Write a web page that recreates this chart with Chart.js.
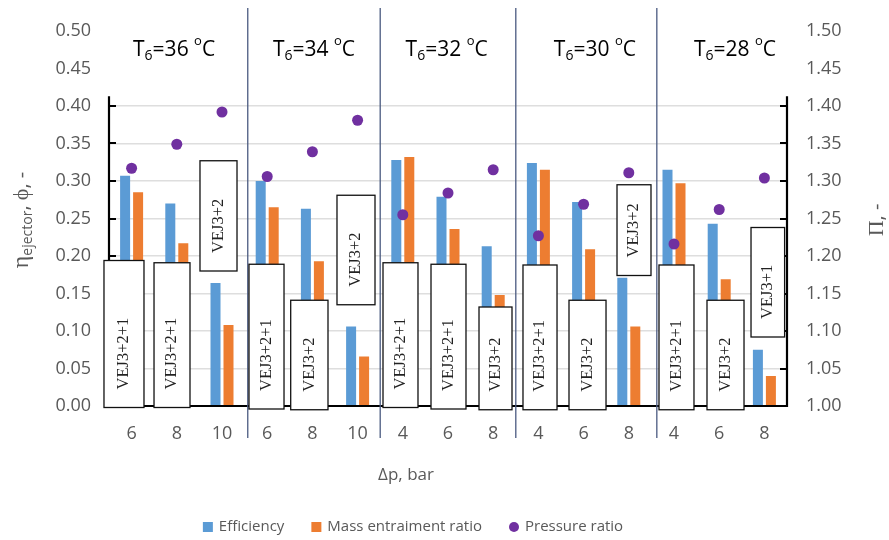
<!DOCTYPE html>
<html><head><meta charset="utf-8">
<script src="https://cdn.jsdelivr.net/npm/chart.js@4.4.0/dist/chart.umd.min.js"></script>
<style>html,body{margin:0;padding:0;background:#fff}#wrap{width:889px;height:540px}</style>
</head><body><div id="wrap"><canvas id="c" width="889" height="540"></canvas></div>
<script>
// ---- data ----
const categories = ['6','8','10','6','8','10','4','6','8','4','6','8','4','6','8'];
const efficiency = [0.307,0.270,0.164,0.300,0.263,0.106,0.328,0.279,0.213,0.324,0.272,0.171,0.315,0.243,0.075];
const massRatio  = [0.285,0.217,0.108,0.265,0.193,0.066,0.332,0.236,0.148,0.315,0.209,0.106,0.297,0.169,0.040];
const pressureRatio = [1.317,1.349,1.392,1.306,1.339,1.381,1.255,1.284,1.315,1.227,1.269,1.311,1.216,1.262,1.304];
const seriesNames = ['Efficiency','Mass entraiment ratio','Pressure ratio'];
const groupTemps = ['36','34','32','30','28'];
const groupCenters = [0.94,4.035,6.97,10.25,13.35];   // category-index units
const dividers = [2.57,5.5,8.5,11.62];                 // category-index units
const boxLabels = ['VEJ3+2+1','VEJ3+2+1','VEJ3+2','VEJ3+2+1','VEJ3+2','VEJ3+2','VEJ3+2+1','VEJ3+2+1','VEJ3+2','VEJ3+2+1','VEJ3+2','VEJ3+2','VEJ3+2+1','VEJ3+2','VEJ3+1'];
const boxFrom = [-0.611,0.496,1.513,2.597,3.520,4.544,5.562,6.624,7.686,8.659,9.677,10.739,11.668,12.730,13.704];
const boxTo   = [0.274,1.292,2.332,3.372,4.345,5.385,6.336,7.398,8.416,9.412,10.496,11.491,12.442,13.549,14.447];
const boxLow  = [-0.002,-0.002,0.180,-0.004,-0.005,0.135,-0.002,-0.004,-0.005,-0.005,-0.005,0.174,-0.005,-0.005,0.092];
const boxHigh = [0.194,0.191,0.327,0.189,0.141,0.281,0.191,0.189,0.132,0.188,0.141,0.295,0.188,0.141,0.238];
const leftAxisMax = 0.5, rightAxisMin = 1.0, rightAxisMax = 1.5, tickStep = 0.05;

const GRAY = '#595959';
const SANS = '"Open Sans", sans-serif';
const SERIF = '"Liberation Serif", serif';

const overlay = {
  id: 'overlay',
  afterDatasetsDraw(chart) {
    const {ctx, chartArea: ca, scales: {x, y}} = chart;
    ctx.save();
    const yTop = y.getPixelForValue(0.413);
    ctx.strokeStyle = '#000'; ctx.lineWidth = 2.2;
    ctx.beginPath();
    ctx.moveTo(ca.left, yTop); ctx.lineTo(ca.left, ca.bottom);
    ctx.lineTo(ca.right, ca.bottom); ctx.lineTo(ca.right, yTop);
    ctx.stroke();
    ctx.lineWidth = 2;
    for (let i = 0; i <= 8; i++) {
      const py = Math.round(y.getPixelForValue(i * tickStep));
      ctx.beginPath();
      ctx.moveTo(ca.left, py); ctx.lineTo(ca.left + 7, py);
      ctx.moveTo(ca.right - 7, py); ctx.lineTo(ca.right, py);
      ctx.stroke();
    }
    ctx.strokeStyle = '#4a5a80'; ctx.lineWidth = 1.3;
    dividers.forEach(d => {
      const px = x.getPixelForValue(d);
      ctx.beginPath(); ctx.moveTo(px, 8); ctx.lineTo(px, ca.bottom + 32); ctx.stroke();
    });
    boxLabels.forEach((lab, i) => {
      const x0 = x.getPixelForValue(boxFrom[i]), x1 = x.getPixelForValue(boxTo[i]);
      const yb = y.getPixelForValue(boxLow[i]), yt = y.getPixelForValue(boxHigh[i]);
      ctx.fillStyle = '#fff';
      ctx.fillRect(x0, yt, x1 - x0, yb - yt);
      ctx.strokeStyle = '#111'; ctx.lineWidth = 1.3;
      ctx.strokeRect(x0, yt, x1 - x0, yb - yt);
      ctx.save();
      ctx.translate((x0 + x1) / 2, yb - 18);
      ctx.rotate(-Math.PI / 2);
      ctx.fillStyle = '#222';
      ctx.font = '16.5px ' + SERIF;
      ctx.textAlign = 'left'; ctx.textBaseline = 'middle';
      ctx.fillText(lab, 0, 0);
      ctx.restore();
    });
    ctx.restore();
  },
  afterDraw(chart) {
    const {ctx, chartArea: ca, scales: {x, y}} = chart;
    ctx.save();
    groupTemps.forEach((t, i) => {
      const parts = [
        {s: 'T', f: '21px ' + SANS, dy: 0},
        {s: '6', f: '14px ' + SANS, dy: 6},
        {s: '=' + t + ' ', f: '21px ' + SANS, dy: 0},
        {s: 'o', f: '13px ' + SANS, dy: -8},
        {s: 'C', f: '21px ' + SANS, dy: 0}
      ];
      let w = 0;
      parts.forEach(p => { ctx.font = p.f; p.w = ctx.measureText(p.s).width; w += p.w; });
      let px = x.getPixelForValue(groupCenters[i]) - w / 2;
      const py = y.getPixelForValue(0.475);
      ctx.fillStyle = '#000'; ctx.textBaseline = 'middle'; ctx.textAlign = 'left';
      parts.forEach(p => { ctx.font = p.f; ctx.fillText(p.s, px, py + p.dy); px += p.w; });
    });
    {
      const parts = [
        {s: 'η', f: '24px ' + SERIF, dy: 0},
        {s: 'ejector', f: '14px ' + SANS, dy: 6},
        {s: ', ', f: '20px ' + SANS, dy: 0},
        {s: 'ϕ', f: '22px ' + SERIF, dy: 0},
        {s: ', -', f: '20px ' + SANS, dy: 0}
      ];
      let w = 0;
      parts.forEach(p => { ctx.font = p.f; p.w = ctx.measureText(p.s).width; w += p.w; });
      ctx.save();
      ctx.translate(22, 220);
      ctx.rotate(-Math.PI / 2);
      ctx.fillStyle = GRAY; ctx.textBaseline = 'middle'; ctx.textAlign = 'left';
      let px = -w / 2;
      parts.forEach(p => { ctx.font = p.f; ctx.fillText(p.s, px, p.dy); px += p.w; });
      ctx.restore();
    }
    {
      const parts = [
        {s: 'Π', f: '22px ' + SERIF, dy: 0},
        {s: ', -', f: '20px ' + SANS, dy: 0}
      ];
      let w = 0;
      parts.forEach(p => { ctx.font = p.f; p.w = ctx.measureText(p.s).width; w += p.w; });
      ctx.save();
      ctx.translate(877, 220);
      ctx.rotate(-Math.PI / 2);
      ctx.fillStyle = GRAY; ctx.textBaseline = 'middle'; ctx.textAlign = 'left';
      let px = -w / 2;
      parts.forEach(p => { ctx.font = p.f; ctx.fillText(p.s, px, p.dy); px += p.w; });
      ctx.restore();
    }
    ctx.font = '17px ' + SANS; ctx.fillStyle = GRAY;
    ctx.textAlign = 'center'; ctx.textBaseline = 'middle';
    ctx.fillText('Δp, bar', 406, 475);
    const ds = chart.data.datasets;
    ctx.font = '15px ' + SANS;
    const gap = 27, sym = 10, symGap = 6;
    let total = 0;
    const widths = ds.map(d => ctx.measureText(d.label).width);
    widths.forEach(w => total += sym + symGap + w);
    total += gap * (ds.length - 1);
    let lx = 413 - total / 2;
    const ly = 527;
    ds.forEach((d, i) => {
      ctx.fillStyle = d.backgroundColor;
      if (d.type === 'line') {
        ctx.beginPath(); ctx.arc(lx + sym / 2, ly, sym / 2, 0, Math.PI * 2); ctx.fill();
      } else {
        ctx.fillRect(lx, ly - sym / 2, sym, sym);
      }
      lx += sym + symGap;
      ctx.fillStyle = GRAY; ctx.textAlign = 'left'; ctx.textBaseline = 'middle';
      ctx.fillText(d.label, lx, ly);
      lx += widths[i] + gap;
    });
    ctx.restore();
  }
};

new Chart(document.getElementById('c'), {
  data: {
    labels: categories,
    datasets: [
      {type: 'bar', label: seriesNames[0], data: efficiency, backgroundColor: '#5B9BD5', yAxisID: 'y',
       categoryPercentage: 0.575, barPercentage: 0.77, order: 2},
      {type: 'bar', label: seriesNames[1], data: massRatio, backgroundColor: '#ED7D31', yAxisID: 'y',
       categoryPercentage: 0.575, barPercentage: 0.77, order: 2},
      {type: 'line', label: seriesNames[2], data: pressureRatio, backgroundColor: '#7030A0', borderColor: '#7030A0',
       showLine: false, pointRadius: 5.5, pointHoverRadius: 5.5, pointBorderWidth: 0, yAxisID: 'y1', order: 1}
    ]
  },
  options: {
    responsive: false, animation: false, devicePixelRatio: 1,
    layout: {padding: {top: 31, left: 0, right: 0, bottom: 0}},
    plugins: {legend: {display: false}, tooltip: {enabled: false}},
    scales: {
      x: {
        grid: {display: false}, border: {display: false},
        ticks: {color: GRAY, font: {family: SANS, size: 18}, padding: 9, maxRotation: 0, autoSkip: false},
        afterFit: s => { s.height = 134; }
      },
      y: {
        position: 'left', min: 0, max: leftAxisMax,
        grid: {drawTicks: false, lineWidth: 1.5,
               color: c => (c.tick && c.tick.value <= 0.4001) ? '#dedede' : 'rgba(0,0,0,0)'},
        border: {display: false},
        ticks: {stepSize: tickStep, color: GRAY, font: {family: SANS, size: 18}, padding: 18,
                callback: v => Number(v).toFixed(2)},
        afterFit: s => { s.width = 109; }
      },
      y1: {
        position: 'right', min: rightAxisMin, max: rightAxisMax,
        grid: {drawOnChartArea: false, drawTicks: false}, border: {display: false},
        ticks: {stepSize: tickStep, color: GRAY, font: {family: SANS, size: 18}, padding: 19,
                callback: v => Number(v).toFixed(2)},
        afterFit: s => { s.width = 102; }
      }
    }
  },
  plugins: [overlay]
});
</script></body></html>
